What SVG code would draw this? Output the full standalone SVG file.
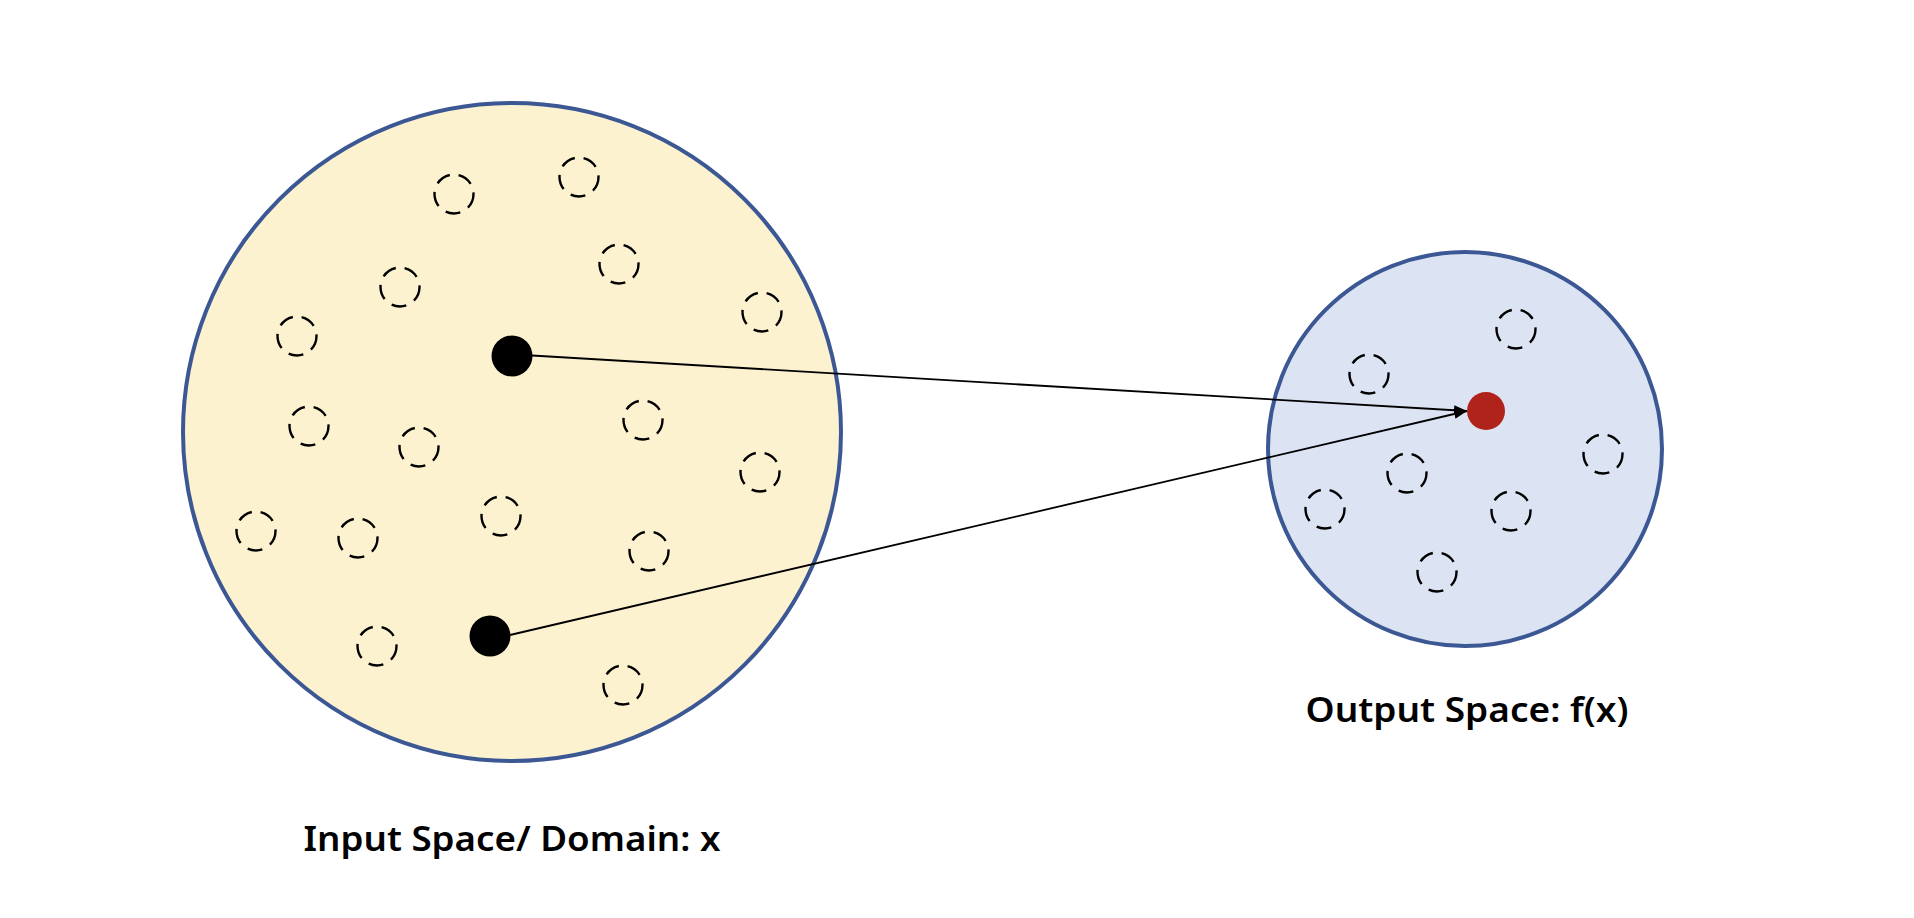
<svg xmlns="http://www.w3.org/2000/svg" width="1914" height="918" viewBox="0 0 1914 918">
<style>
.space{stroke:#3C5894;stroke-width:4}
.pt{fill:none;stroke:#000;stroke-width:2.4;stroke-dasharray:15 9}
.lbl{font-family:"Noto Sans","Open Sans","DejaVu Sans",sans-serif;font-weight:600;font-size:35px;fill:#000;text-anchor:middle}
.conn{stroke:#000;stroke-width:1.8;fill:none}
</style>
<defs>
<marker id="arr" markerUnits="userSpaceOnUse" markerWidth="14" markerHeight="12" refX="13" refY="5" orient="auto">
<path d="M0,0 L13,5 L0,10 z" fill="#000"/>
</marker>
</defs>
<rect width="1914" height="918" fill="#fff"/>
<g id="input-space">
<circle class="space" cx="512" cy="432" r="329" fill="#FDF2D0"/>
<g id="input-points">
<circle class="pt" cx="454" cy="194" r="19.5"/>
<circle class="pt" cx="579" cy="177" r="19.5"/>
<circle class="pt" cx="619" cy="264" r="19.5"/>
<circle class="pt" cx="400" cy="287" r="19.5"/>
<circle class="pt" cx="297" cy="336" r="19.5"/>
<circle class="pt" cx="762" cy="312" r="19.5"/>
<circle class="pt" cx="309" cy="426" r="19.5"/>
<circle class="pt" cx="419" cy="447" r="19.5"/>
<circle class="pt" cx="643" cy="420" r="19.5"/>
<circle class="pt" cx="760" cy="472" r="19.5"/>
<circle class="pt" cx="256" cy="531" r="19.5"/>
<circle class="pt" cx="358" cy="538" r="19.5"/>
<circle class="pt" cx="501" cy="516" r="19.5"/>
<circle class="pt" cx="649" cy="551" r="19.5"/>
<circle class="pt" cx="377" cy="646" r="19.5"/>
<circle class="pt" cx="623" cy="685" r="19.5"/>
</g>
<text class="lbl" x="512" y="851" textLength="417" lengthAdjust="spacingAndGlyphs">Input Space/ Domain: x</text>
</g>
<g id="output-space">
<circle class="space" cx="1465" cy="449" r="197" fill="#DCE3F2"/>
<g id="output-points">
<circle class="pt" cx="1516" cy="329" r="19.5"/>
<circle class="pt" cx="1369" cy="374" r="19.5"/>
<circle class="pt" cx="1603" cy="454" r="19.5"/>
<circle class="pt" cx="1407" cy="473" r="19.5"/>
<circle class="pt" cx="1325" cy="509" r="19.5"/>
<circle class="pt" cx="1511" cy="511" r="19.5"/>
<circle class="pt" cx="1437" cy="572" r="19.5"/>
</g>
<text class="lbl" x="1467" y="722" textLength="323" lengthAdjust="spacingAndGlyphs">Output Space: f(x)</text>
</g>
<g id="x1"><circle cx="512" cy="356" r="20.5" fill="#000"/></g>
<g id="x2"><circle cx="490" cy="636" r="20.5" fill="#000"/></g>
<g id="fx"><circle cx="1486" cy="411" r="19" fill="#B0231A"/></g>
<g id="connectors">
<line class="conn" x1="532" y1="355.5" x2="1467" y2="411" marker-end="url(#arr)"/>
<line class="conn" x1="510" y1="635" x2="1467" y2="411" marker-end="url(#arr)"/>
</g>
</svg>
